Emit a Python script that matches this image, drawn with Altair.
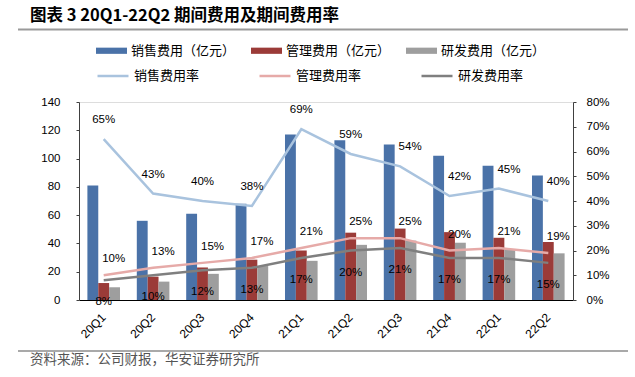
import altair as alt
import pandas as pd

categories = ["20Q1", "20Q2", "20Q3", "20Q4", "21Q1", "21Q2", "21Q3", "21Q4", "22Q1", "22Q2"]
sales_cost = [81, 56, 61, 68, 117, 113, 110, 102, 95, 88]
admin_cost = [12, 16.5, 23, 28.5, 35, 47.6, 50.5, 48, 44, 41]
rnd_cost = [9, 13, 18.5, 24, 27.7, 39, 42, 40.5, 36, 33]
sales_rate = [65, 43, 40, 38, 69, 59, 54, 42, 45, 40]
admin_rate = [10, 13, 15, 17, 21, 25, 25, 20, 21, 19]
rnd_rate = [8, 10, 12, 13, 17, 20, 21, 17, 17, 15]

bar_names = ["销售费用（亿元）", "管理费用（亿元）", "研发费用（亿元）"]
line_names = ["销售费用率", "管理费用率", "研发费用率"]
bar_colors = ["#4a72a8", "#9b3b38", "#9e9e9e"]
line_colors = ["#a9c3de", "#e6aaa8", "#7f7f7f"]

title_text = "图表 3 20Q1-22Q2 期间费用及期间费用率"
source_text = "资料来源：公司财报，华安证券研究所"

CJK = "Noto Sans CJK SC"
NUM = "Liberation Sans"

bar_rows = []
for name, vals in zip(bar_names, [sales_cost, admin_cost, rnd_cost]):
    for c, v in zip(categories, vals):
        bar_rows.append({"cat": c, "series": name, "value": v})
bar_df = pd.DataFrame(bar_rows)

line_rows = []
for name, vals in zip(line_names, [sales_rate, admin_rate, rnd_rate]):
    for c, v in zip(categories, vals):
        line_rows.append({"cat": c, "series": name, "rate": v, "label": f"{v}%"})
line_df = pd.DataFrame(line_rows)

x_axis = alt.Axis(title=None, labelAngle=-45, labelAlign="right", labelBaseline="middle",
                  labelFont=NUM, labelFontSize=12, labelColor="#000", labelPadding=15,
                  ticks=False, domainColor="#000", domainWidth=1.2)
x_scale = alt.Scale(paddingInner=0.34, paddingOuter=0.17)


def x_enc():
    return alt.X("cat:N", sort=categories, scale=x_scale, axis=x_axis)


bars = alt.Chart(bar_df).mark_bar().encode(
    x=x_enc(),
    xOffset=alt.XOffset("series:N", sort=bar_names, scale=alt.Scale(paddingInner=0, paddingOuter=0)),
    y=alt.Y("value:Q", scale=alt.Scale(domain=[0, 140], nice=False),
            axis=alt.Axis(title=None, values=[0, 20, 40, 60, 80, 100, 120, 140], grid=False,
                          orient="left", labelFont=NUM, labelFontSize=11.5, labelColor="#000",
                          tickSize=3, tickColor="#404040", labelPadding=16, labelOverlap=False,
                          domainColor="#404040")),
    fill=alt.Fill("series:N", sort=bar_names,
                  scale=alt.Scale(domain=bar_names, range=bar_colors),
                  legend=alt.Legend(title=None, orient="none", legendX=17, legendY=-67,
                                    direction="horizontal", columns=3, columnPadding=15,
                                    symbolType="M-1,-0.2L1,-0.2L1,0.2L-1,0.2Z", symbolSize=961,
                                    symbolStrokeWidth=0, labelOffset=4,
                                    labelFont=CJK, labelFontSize=13, labelColor="#000")),
)


def y_rate():
    return alt.Y("rate:Q", scale=alt.Scale(domain=[0, 80], nice=False),
                 axis=alt.Axis(title=None, orient="right",
                               values=[0, 10, 20, 30, 40, 50, 60, 70, 80],
                               labelExpr="datum.value + '%'", grid=False, labelFont=NUM,
                               labelFontSize=11.5, labelColor="#000", tickSize=3,
                               tickColor="#404040", labelPadding=10, labelOverlap=False,
                               domainColor="#404040"))


lines = alt.Chart(line_df).mark_line(strokeWidth=2.5).encode(
    x=x_enc(),
    y=y_rate(),
    stroke=alt.Stroke("series:N", sort=line_names,
                      scale=alt.Scale(domain=line_names, range=line_colors),
                      legend=alt.Legend(title=None, orient="none", legendX=17, legendY=-43,
                                        direction="horizontal", columns=3, columnPadding=54,
                                        symbolType="stroke", symbolSize=961, symbolStrokeWidth=2.5,
                                        labelOffset=4, labelFont=CJK, labelFontSize=13,
                                        labelColor="#000")),
)


def labels(series, dx, dy, cats=None):
    ch = alt.Chart(line_df).transform_filter(alt.datum.series == series)
    if cats is not None:
        ch = ch.transform_filter(alt.FieldOneOfPredicate(field="cat", oneOf=cats))
    return ch.mark_text(font=NUM, fontSize=11.5, color="#000", dx=dx, dy=dy).encode(
        x=x_enc(), y=y_rate(), text="label:N")


rates = alt.layer(
    lines,
    labels(line_names[0], 0, -19, categories[:6]),
    labels(line_names[0], 10, -19, categories[6:]),
    labels(line_names[1], 10, -16),
    labels(line_names[2], 0, 22),
)

one = pd.DataFrame({"t": [title_text], "s": [source_text]})
title = alt.Chart(one).mark_text(font=CJK, fontSize=16.5, fontWeight="bold", align="left",
                                 baseline="middle", color="#000").encode(
    x=alt.value(-49), y=alt.value(-86), text="t:N")
source = alt.Chart(one).mark_text(font=CJK, fontSize=13.5, align="left", baseline="middle",
                                  color="#555").encode(
    x=alt.value(-49), y=alt.value(258), text="s:N")
rule_top = alt.Chart(one).mark_rule(color="#9a9a9a", strokeWidth=2).encode(
    x=alt.value(-61), x2=alt.value(549), y=alt.value(-72.5))
rule_bottom = alt.Chart(one).mark_rule(color="#555", strokeWidth=1.2).encode(
    x=alt.value(-61), x2=alt.value(549), y=alt.value(249))

chart = alt.layer(bars, rates, title, source, rule_top, rule_bottom).resolve_scale(
    y="independent"
).properties(
    width=494, height=198,
    autosize=alt.AutoSizeParams(type="none"),
    padding={"left": 79, "top": 102, "right": 62, "bottom": 77},
).configure_view(stroke=None).configure(background="white")

chart.save("out.html", embed_options={"renderer": "svg", "actions": False})
